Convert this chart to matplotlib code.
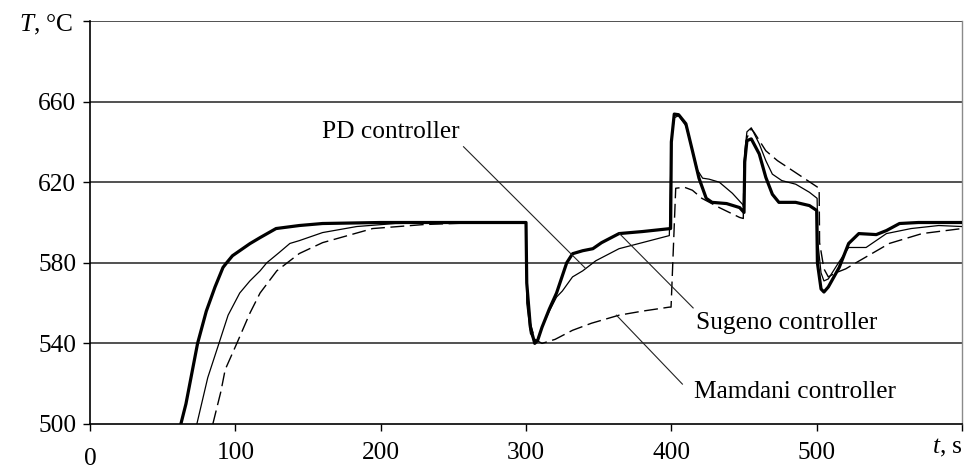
"""Furnace temperature response: PD vs. Sugeno vs. Mamdani controllers."""

import matplotlib

matplotlib.use("Agg")
import matplotlib.pyplot as plt

plt.rcParams["font.family"] = ["Liberation Serif", "DejaVu Serif"]
plt.rcParams["mathtext.fontset"] = "custom"
plt.rcParams["mathtext.rm"] = "Liberation Serif"
plt.rcParams["mathtext.it"] = "Liberation Serif:italic"

# --- data -------------------------------------------------------------------
sugeno_t = [62.5, 66, 70, 74, 80, 86, 91.5, 94, 98, 103, 110, 117, 128, 144, 160, 200,
            250, 300, 300.5, 303, 306, 308, 311, 316, 321, 328, 332, 339, 346, 352, 364,
            380, 399.5, 400, 402, 405, 410, 414.5, 419, 424, 428, 438, 447, 450, 450.5,
            452, 455, 460.5, 465, 469.5, 474, 485.5, 495, 500, 500.5, 503, 505, 508,
            515.5, 522, 529, 541, 548, 557, 570, 600]
sugeno_T = [500, 510, 525, 540, 556, 568, 577.7, 580, 583.5, 586, 589.5, 592.5, 597, 598.5,
            599.5, 600, 600, 600, 570, 548, 540, 541.5, 548, 557, 565, 580, 584.5, 586,
            587, 590, 594.5, 595.5, 597, 640, 653.8, 653.5, 649, 635.6, 622, 612, 610,
            609.4, 607.4, 605, 630, 640.6, 641.5, 634, 622.4, 614, 610, 610, 608.4, 606,
            580, 567, 565.5, 568, 577.7, 589.6, 594.5, 594, 596, 599.5, 600, 600]

pd_t = [73.5, 81, 88.7, 95, 103, 110, 117, 121.6, 130, 137.5, 144, 160, 183.5, 210, 250,
        300, 300.5, 303, 306, 308, 311, 316, 321, 325, 332, 339, 348, 364, 380, 398.6,
        400, 402, 405, 410, 414.5, 418, 421.5, 426, 433, 442, 449, 450, 450.5, 452, 455,
        460.5, 465, 469.5, 476, 485.6, 495, 500.3, 500.8, 503, 505, 508, 515, 522, 534,
        548, 565, 584, 600]
pd_T = [500, 523, 540, 554, 565, 571, 576, 580, 585, 589.6, 591, 595, 598, 599.5, 600,
        600, 560, 545, 541, 542, 548, 556, 563, 566, 573, 576, 581, 587, 590, 593.5,
        640, 652, 653, 648, 636, 626, 622, 621.5, 620, 614.5, 609, 608, 635, 645, 647,
        639, 630.7, 624, 620.8, 619, 615, 612, 590, 575, 571, 572, 580, 587.6, 587.6,
        594.5, 597, 598.5, 598]

mamdani_t = [84.5, 90, 93, 101, 110, 117, 128.5, 137.5, 144, 160, 194.5, 230, 270, 300,
             300.5, 303, 306, 311, 320, 332, 345, 364, 380, 398.6, 399.8, 403, 409,
             414.5, 421, 433, 447, 449.5, 450, 452, 455, 457, 465, 473, 485, 501.7,
             502, 505, 508, 513, 520, 527, 550, 572.5, 600]
mamdani_T = [500, 516, 527, 540, 555, 565, 576, 581, 584.6, 590, 597, 599, 600, 600,
             570, 550, 542, 540, 542, 546.5, 550, 554, 556, 558, 558, 617, 617.5, 616,
             612, 607.4, 602.5, 602, 630, 642, 646.5, 644.7, 635.6, 630.7, 625, 617,
             590, 577, 573, 575, 577, 580, 589.6, 594.5, 597]

y_ticks = [500, 540, 580, 620, 660, 700]
y_tick_labels = ["500", "540", "580", "620", "660", ""]
x_ticks = [0, 100, 200, 300, 400, 500, 600]
x_tick_labels = ["", "100", "200", "300", "400", "500", ""]

# (label, text anchor, pointer start, pointer end)
callouts = [
    ("PD controller", (159.5, 642), (257, 637.6), (341, 577.2)),
    ("Sugeno controller", (417.2, 547), (415, 557.6), (364.3, 594.5)),
    ("Mamdani controller", (415.8, 512.9), (407.6, 519.8), (362.2, 554)),
]

FS = 18.3

fig = plt.figure(figsize=(9.65, 4.71), dpi=100)
ax = fig.add_axes([0.0933, 0.0998, 0.9036, 0.8556])

for y in y_ticks[1:]:
    ax.axhline(y, color="#333333", linewidth=1.2, zorder=1)

ax.plot(mamdani_t, mamdani_T, color="black", linewidth=1.0, dashes=(10, 4), zorder=3)
ax.plot(pd_t, pd_T, color="black", linewidth=0.9, zorder=3)
ax.plot(sugeno_t, sugeno_T, color="black", linewidth=2.3, zorder=4)

for label, (tx, ty), (x0, y0), (x1, y1) in callouts:
    ax.plot([x0, x1], [y0, y1], color="#222222", linewidth=0.8, zorder=5)
    ax.text(tx, ty, label, fontsize=FS, ha="left", va="baseline", zorder=6)

ax.set_xlim(0, 600)
ax.set_ylim(500, 700)
ax.set_xticks(x_ticks)
ax.set_xticklabels(x_tick_labels)
ax.set_yticks(y_ticks)
ax.set_yticklabels(y_tick_labels)
ax.tick_params(axis="both", direction="out", length=5, width=1.0, labelsize=FS,
               color="black")
ax.tick_params(axis="y", pad=5)
ax.tick_params(axis="x", pad=8)

for side in ("left", "bottom"):
    ax.spines[side].set_linewidth(1.2)
    ax.spines[side].set_color("black")
ax.spines["top"].set_visible(False)
ax.spines["right"].set_color("#8a8a8a")
ax.spines["right"].set_linewidth(1.0)

ax.text(0, 482.5, "0", fontsize=FS, ha="center", va="center", clip_on=False)
ax.text(600.5, 488, "$t$, s", fontsize=FS, ha="right", va="center", clip_on=False)
ax.text(-11.5, 698, "$T$, °C", fontsize=FS, ha="right", va="center", clip_on=False)

fig.savefig("out.png", dpi=100)
